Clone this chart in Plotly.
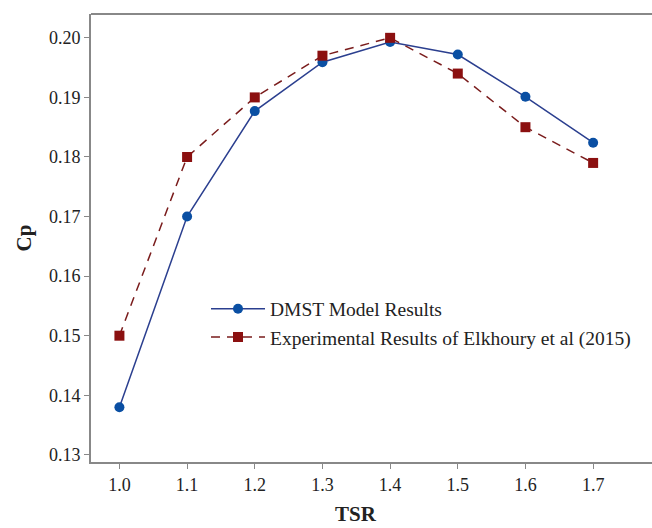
import plotly.graph_objects as go

tsr = [1.0, 1.1, 1.2, 1.3, 1.4, 1.5, 1.6, 1.7]
cp_dmst = [0.138, 0.170, 0.1877, 0.1959, 0.1993, 0.1972, 0.1901, 0.1824]
cp_exp = [0.150, 0.180, 0.190, 0.197, 0.200, 0.194, 0.185, 0.179]
x_ticks = [1.0, 1.1, 1.2, 1.3, 1.4, 1.5, 1.6, 1.7]
x_tick_text = ["1.0", "1.1", "1.2", "1.3", "1.4", "1.5", "1.6", "1.7"]
y_ticks = [0.13, 0.14, 0.15, 0.16, 0.17, 0.18, 0.19, 0.20]
y_tick_text = ["0.13", "0.14", "0.15", "0.16", "0.17", "0.18", "0.19", "0.20"]

FONT = "Liberation Serif, Times New Roman, serif"

fig = go.Figure()
fig.add_trace(go.Scatter(
    x=tsr, y=cp_dmst, mode="lines+markers", name="DMST Model Results",
    line=dict(color="#2b3f8f", width=1.5),
    marker=dict(symbol="circle", size=10, color="#0a4fa3"),
))
fig.add_trace(go.Scatter(
    x=tsr, y=cp_exp, mode="lines+markers",
    name="Experimental Results of Elkhoury et al (2015)",
    line=dict(color="#7a1c1c", width=1.5, dash="9px,7px"),
    marker=dict(symbol="square", size=10, color="#8b1010"),
))

fig.update_layout(
    width=652, height=528,
    margin=dict(l=91, r=0, t=14, b=66),
    paper_bgcolor="white", plot_bgcolor="white",
    font=dict(family=FONT, color="#222222", size=18),
    showlegend=True,
    legend=dict(x=0.205, y=0.385, xanchor="left", yanchor="top",
                bgcolor="rgba(0,0,0,0)", font=dict(size=19.5, family=FONT),
                itemwidth=54, tracegroupgap=0),
    shapes=[dict(type="line", xref="paper", yref="paper", x0=0, x1=1, y0=1, y1=1,
                 line=dict(color="#888888", width=2))],
    annotations=[dict(text="<b>TSR</b>", xref="paper", yref="paper",
                      x=0.472, y=0, yshift=-52, xanchor="center", yanchor="middle",
                      showarrow=False, font=dict(size=21, family=FONT, color="#222222"))],
)
fig.update_xaxes(
    range=[0.958, 1.787], tickvals=x_ticks, ticktext=x_tick_text,
    showgrid=False, zeroline=False, showline=True, linecolor="#888888", linewidth=2,
    ticks="outside", ticklen=5, tickcolor="#888888", tickwidth=1,
    tickfont=dict(size=18, family=FONT),
)
fig.update_yaxes(
    range=[0.1288, 0.2040], tickvals=y_ticks, ticktext=y_tick_text,
    showgrid=False, zeroline=False, showline=True, linecolor="#888888", linewidth=2,
    ticks="outside", ticklen=5, tickcolor="#888888", tickwidth=1,
    tickfont=dict(size=18, family=FONT),
    title=dict(text="<b>Cp</b>", font=dict(size=21, family=FONT), standoff=12),
)

fig.write_html("out.html")
